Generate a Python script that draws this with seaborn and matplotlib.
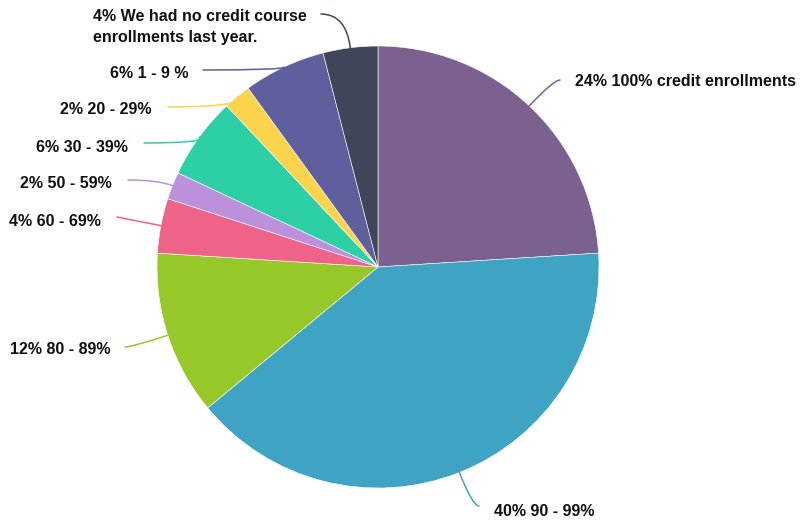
import numpy as np
import matplotlib
matplotlib.use('Agg')
import matplotlib.pyplot as plt
import seaborn as sns

# data, clockwise from 12 o'clock
categories = ['100% credit enrollments', '90 - 99%', '80 - 89%', '60 - 69%',
              '50 - 59%', '30 - 39%', '20 - 29%', '1 - 9 %',
              'We had no credit course\nenrollments last year.']
shares = [24, 40, 12, 4, 2, 6, 2, 6, 4]
slice_colors = ['#7B6190', '#3FA3C3', '#97C82A', '#EF6388', '#BD90DB',
                '#2DCFA5', '#FBD34C', '#605F9E', '#414559']

sns.set_theme(style='white')
plt.rcParams['font.family'] = ['Liberation Sans', 'DejaVu Sans']

W, H = 801, 523
fig = plt.figure(figsize=(W / 100, H / 100), dpi=100)
ax = fig.add_axes([0, 0, 1, 1])

cx, cy, r = 378, H - 267, 221
wedges, _ = ax.pie(shares, colors=sns.color_palette(slice_colors), startangle=90,
                   counterclock=False, center=(cx, cy), radius=r,
                   wedgeprops=dict(edgecolor='white', linewidth=0.4))
ax.set_xlim(0, W)
ax.set_ylim(0, H)
ax.set_aspect('auto')
ax.axis('off')

# label layout in pixel coords (y down): line end, text anchor, alignment
layout = [
    ((560, 80), (575, 82), 'left'),
    ((479, 506), (494, 511), 'left'),
    ((125, 347), (110, 350), 'right'),
    ((117, 217), (101, 221), 'right'),
    ((128, 180), (112, 183), 'right'),
    ((144, 143), (128, 147), 'right'),
    ((168, 107), (152, 110), 'right'),
    ((203, 70), (188, 73), 'right'),
    ((321, 14), (93, 27), 'left'),
]

for w, cat, val, col, (lend, tpos, ha) in zip(wedges, categories, shares, slice_colors, layout):
    mid = np.deg2rad((w.theta1 + w.theta2) / 2)
    ex, ey = cx + r * np.cos(mid), cy + r * np.sin(mid)
    ang = np.rad2deg(mid)
    ax.annotate('', xy=(ex, ey), xytext=(lend[0], H - lend[1]),
                arrowprops=dict(arrowstyle='-', color=col, lw=1.1,
                                shrinkA=0, shrinkB=0,
                                connectionstyle=f'angle3,angleA=0,angleB={ang:.1f}'))
    ax.text(tpos[0], H - tpos[1], f'{val}% {cat}', ha=ha, va='center',
            fontsize=11.5, fontweight='bold', color='#111111', linespacing=1.45)

fig.savefig('out.png', dpi=100)
